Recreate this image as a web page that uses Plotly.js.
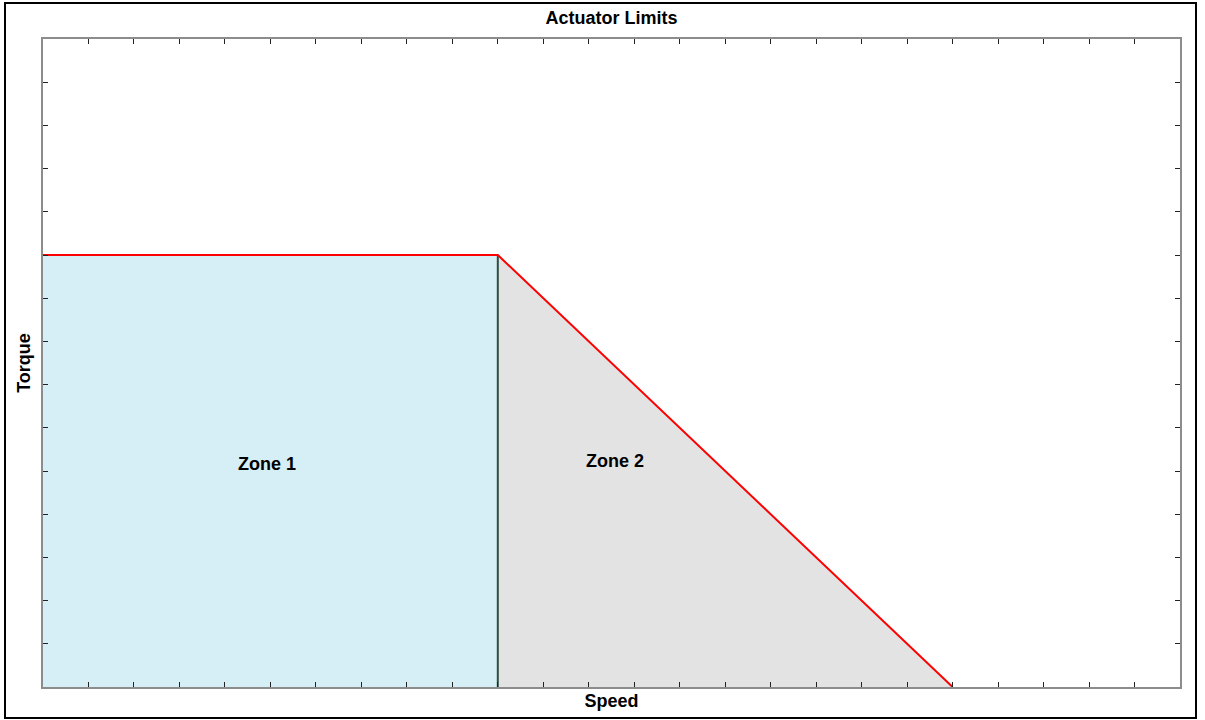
<!DOCTYPE html>
<html>
<head>
<meta charset="utf-8">
<script src="https://cdn.plot.ly/plotly-3.0.1.min.js"></script>
<style>html,body{margin:0;padding:0;background:#fff;}#chart{width:1205px;height:720px;}</style>
</head>
<body>
<div id="chart"></div>
<script>
// Data
const limitSpeed = [0, 10, 20];
const limitTorque = [10, 10, 0];
const zone1Speed = [0, 10, 10, 0];
const zone1Torque = [0, 0, 10, 10];
const zone2Speed = [10, 20, 10];
const zone2Torque = [0, 0, 10];
const boundarySpeed = [10, 10];
const boundaryTorque = [0, 10];
const zoneLabels = ["Zone 1", "Zone 2"];
const zoneLabelSpeed = [4.93, 12.58];
const zoneLabelTorque = [5.16, 5.24];
const speedRange = [0, 25];
const torqueRange = [0, 15];

const FONT = "Liberation Sans, Arial, sans-serif";

const traces = [
  {x: zone1Speed, y: zone1Torque, type: "scatter", mode: "lines", fill: "toself",
   fillcolor: "#d6eef5", line: {width: 0, color: "#d6eef5"}, hoverinfo: "skip", showlegend: false},
  {x: zone2Speed, y: zone2Torque, type: "scatter", mode: "lines", fill: "toself",
   fillcolor: "#e3e3e3", line: {width: 0, color: "#e3e3e3"}, hoverinfo: "skip", showlegend: false},
  {x: boundarySpeed, y: boundaryTorque, type: "scatter", mode: "lines",
   line: {width: 2, color: "#2d4f40"}, showlegend: false},
  {x: limitSpeed, y: limitTorque, type: "scatter", mode: "lines",
   line: {width: 2, color: "#ff0000"}, showlegend: false}
];

const axisCommon = {
  showline: true, linecolor: "#8c8c8c", linewidth: 2, mirror: "ticks",
  ticks: "inside", ticklen: 5, tickwidth: 1, tickcolor: "#222",
  dtick: 1, showticklabels: false, showgrid: false, zeroline: false, fixedrange: true
};

const layout = {
  width: 1205, height: 720,
  margin: {l: 43, r: 25, t: 39, b: 33, pad: 0},
  paper_bgcolor: "#fff", plot_bgcolor: "#fff",
  font: {family: FONT, color: "#000"},
  title: {text: "<b>Actuator Limits</b>", font: {size: 18, family: FONT, color: "#000"},
          x: 0.5075, xanchor: "center", y: 0.975, yanchor: "middle", yref: "container"},
  xaxis: Object.assign({}, axisCommon, {range: speedRange,
          title: {text: "<b>Speed</b>", font: {size: 18, family: FONT, color: "#000"}, standoff: 6}}),
  yaxis: Object.assign({}, axisCommon, {range: torqueRange,
          title: {text: "<b>Torque</b>", font: {size: 18, family: FONT, color: "#000"}, standoff: 6}}),
  annotations: zoneLabels.map((t, i) => ({
    text: "<b>" + t + "</b>", x: zoneLabelSpeed[i], y: zoneLabelTorque[i],
    xref: "x", yref: "y", showarrow: false, font: {size: 18, family: FONT, color: "#000"}
  })),
  shapes: [{type: "rect", xref: "paper", yref: "paper",
            x0: (5 - 43) / 1137, x1: (1196 - 43) / 1137,
            y0: (687 - 718) / 648, y1: (687 - 3) / 648,
            line: {color: "#000", width: 2}, fillcolor: "rgba(0,0,0,0)", layer: "above"}]
};

Plotly.newPlot("chart", traces, layout, {displayModeBar: false, staticPlot: true});
</script>
</body>
</html>
